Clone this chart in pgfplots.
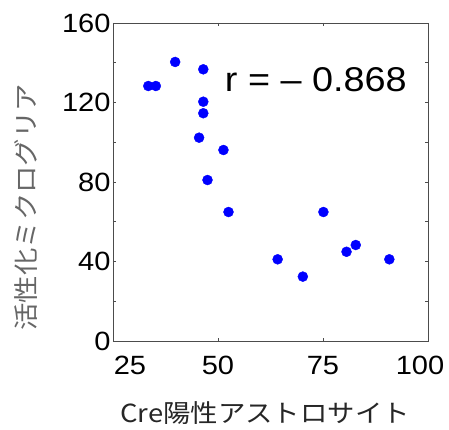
\documentclass[border=0pt]{standalone}
\usepackage{pgfplots}
\pgfplotsset{compat=1.18}
\usepackage{fontspec}
\setmainfont{Liberation Sans}[FakeStretch=1.1]
\newfontfamily\cjk{Noto Sans CJK JP}[FakeStretch=1.1]
\definecolor{ptblue}{RGB}{0,0,255}
\begin{document}
\begin{tikzpicture}
\useasboundingbox (-113bp,-89bp) rectangle (336bp,341bp);
\begin{axis}[
  scale only axis,
  width=315bp, height=318bp,
  xmin=25, xmax=100, ymin=0, ymax=160,
  xtick={25,50,75,100}, ytick={0,40,80,120,160},
  xticklabels={\hspace*{34bp}25,50,75,100\hspace*{16bp}},
  minor y tick num=1,
  tick align=inside, tick pos=both,
  major tick length=3bp, minor tick length=3bp,
  axis line style={black!70, line width=0.8bp},
  every tick/.style={black!70, line width=0.6bp},
  /pgf/number format/assume math mode=true,
  ticklabel style={font=\fontsize{26.5}{30}\selectfont},
  yticklabel style={xshift=1bp},
  xticklabel style={yshift=-12bp},
  clip=false,
  xlabel={{\cjk Cre陽性アストロサイト}},
  ylabel={{\cjk 活性化ミクログリア}},
  xlabel style={at={(axis description cs:0.483,-0.226)}, anchor=center, font=\fontsize{25}{28}\selectfont, text=black!85},
  ylabel style={at={(axis description cs:-0.276,0.421)}, anchor=center, font=\fontsize{25}{28}\selectfont, text=black!60},
]
\addplot[only marks, mark=*, mark size=5bp, draw=ptblue, fill=ptblue] coordinates {
(33.4,128.3) (35.2,128.3) (39.8,140.4) (46.5,136.7) (46.5,120.4) (46.5,114.6)
(45.5,102.3) (51.3,96.1) (47.5,81.0) (52.5,64.9) (75.1,64.9) (64.2,41.1)
(70.2,32.4) (80.6,44.9) (82.8,48.3) (90.8,41.1)
};
\node[font=\fontsize{34.5}{38}\selectfont, anchor=center] at (axis cs:73.3,131.3) {r = – 0.868};
\end{axis}
\end{tikzpicture}
\end{document}
